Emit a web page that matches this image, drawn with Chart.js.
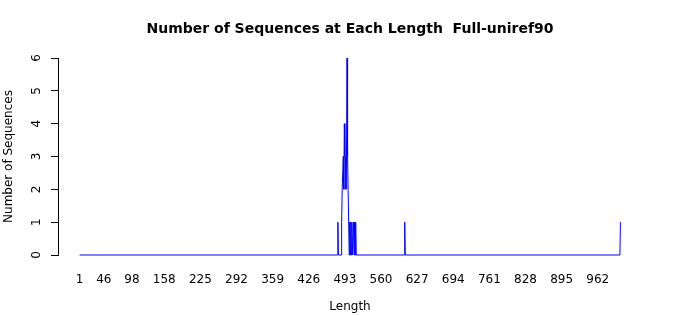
<!DOCTYPE html>
<html>
<head>
<meta charset="utf-8">
<script src="https://cdn.jsdelivr.net/npm/chart.js@4"></script>
<style>
  html, body { margin: 0; padding: 0; background: #fff; }
  #wrap { width: 700px; height: 315px; }
</style>
</head>
<body>
<div id="wrap"><canvas id="lengthChart"></canvas></div>
<script>
// sequence length -> number of sequences (zeros kept where the line drops back)
const lengths = [1, 479, 480, 481, 486, 487, 488, 489, 490, 491, 492, 493, 494, 495, 496, 497, 498, 499, 500,
    501, 502, 503, 504, 505, 506, 507, 508, 509, 510, 511, 512, 513, 514, 603, 604, 605, 1003, 1004];
const counts = [0, 0, 1, 0, 0, 1, 2, 2, 3, 2, 4, 3, 3, 2, 3, 6, 3, 2, 2,
    0, 1, 0, 1, 0, 1, 0, 0, 1, 0, 1, 0, 1, 0, 0, 1, 0, 0, 1];
const xTickLabels = [1, 46, 98, 158, 225, 292, 359, 426, 493, 560, 627, 694, 761, 828, 895, 962];
const yTickLabels = [0, 1, 2, 3, 4, 5, 6];

const font = 'DejaVu Sans';

new Chart(document.getElementById('lengthChart'), {
    type: 'line',
    data: {
        datasets: [{
            data: lengths.map((len, i) => ({ x: len, y: counts[i] })),
            borderColor: 'rgb(0,0,255)',
            borderWidth: 1,
            pointRadius: 0,
            tension: 0,
            clip: false
        }]
    },
    options: {
        responsive: true,
        maintainAspectRatio: false,
        animation: false,
        layout: { padding: { left: 0, right: 58, top: 0, bottom: 0 } },
        plugins: {
            legend: { display: false },
            tooltip: { enabled: false },
            title: {
                display: true,
                fullSize: false,
                text: 'Number of Sequences at Each Length  Full-uniref90',
                color: '#000',
                font: { family: font, size: 14, weight: 'bold', lineHeight: 1.2 },
                padding: { top: 21, bottom: 20.2 }
            }
        },
        scales: {
            x: {
                type: 'linear',
                min: -39,
                max: 1044,
                grid: { display: false },
                border: { display: false },
                afterBuildTicks: (axis) => {
                    axis.ticks = xTickLabels.map(v => ({ value: v }));
                },
                afterFit: (axis) => { axis.height = 60; },
                ticks: {
                    autoSkip: false,
                    maxRotation: 0,
                    padding: 10,
                    color: '#000',
                    font: { family: font, size: 12 },
                    callback: (v) => String(v)
                },
                title: {
                    display: true,
                    text: 'Length',
                    color: '#000',
                    font: { family: font, size: 12, lineHeight: 1.2 },
                    padding: { top: 0, bottom: 1 }
                }
            },
            y: {
                min: 0,
                max: 6,
                grid: { drawOnChartArea: false, color: '#000', tickLength: 7, tickColor: '#000' },
                border: { display: true, color: '#000', width: 1 },
                afterBuildTicks: (axis) => {
                    axis.ticks = yTickLabels.map(v => ({ value: v }));
                },
                afterFit: (axis) => { axis.width = 58; },
                ticks: {
                    minRotation: 90,
                    maxRotation: 90,
                    crossAlign: 'center',
                    padding: 10,
                    color: '#000',
                    font: { family: font, size: 12 }
                },
                title: {
                    display: true,
                    text: 'Number of Sequences',
                    color: '#000',
                    font: { family: font, size: 12, lineHeight: 1.2 },
                    padding: { top: 2, bottom: 0 }
                }
            }
        }
    }
});
</script>
</body>
</html>
